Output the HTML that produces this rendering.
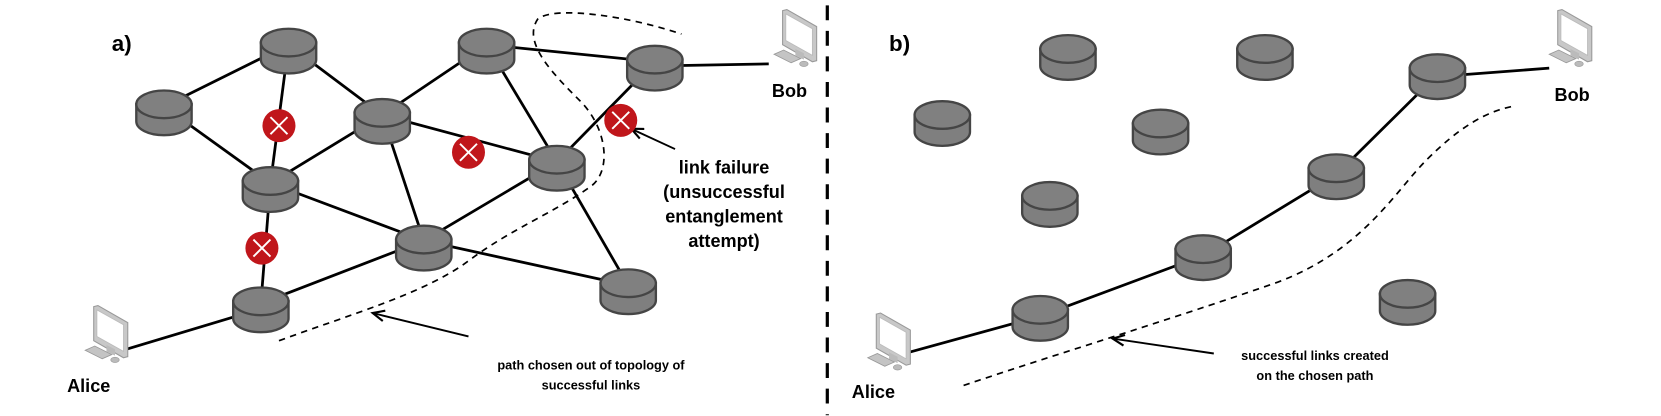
<!DOCTYPE html>
<html><head><meta charset="utf-8"><style>
html,body{margin:0;padding:0;background:#fff;}
svg{display:block;}
text{font-family:"Liberation Sans",Arial,sans-serif;font-weight:bold;fill:#000;}
</style></head><body>
<svg width="1661" height="416" viewBox="0 0 1560 390.7" preserveAspectRatio="none" xmlns="http://www.w3.org/2000/svg">
<defs>
<g id="node">
<path d="M-26,0 v16 a26,13 0 0 0 52,0 v-16 z" fill="#7f7f7f" stroke="#454545" stroke-width="2.2"/>
<ellipse cx="0" cy="0" rx="26" ry="13" fill="#808080" stroke="#454545" stroke-width="2.2"/>
</g>
<g id="fail">
<circle r="15.5" fill="#c0161b"/>
<path d="M-8,-8 L8,8 M8,-8 L-8,8" stroke="#fff" stroke-width="1.8"/>
</g>
<g id="pc">
<polygon points="8,0 12,-1 40,15 40,47 36,48 8,32" fill="#c8c8c8" stroke="#999" stroke-width="1"/>
<polygon points="11,3 36,17 36,42 11,28" fill="#fff" stroke="#bbb" stroke-width="0.8"/>
<polygon points="20,36 28,40 28,46 20,42" fill="#bbb"/>
<polygon points="0,41 9,37 25,45 16,49" fill="#c4c4c4" stroke="#999" stroke-width="0.8"/>
<ellipse cx="28" cy="50" rx="4" ry="2.5" fill="#bbb" stroke="#999" stroke-width="0.6"/>
</g>
<marker id="arr" markerWidth="14" markerHeight="12" refX="12" refY="6" orient="auto" markerUnits="userSpaceOnUse">
<path d="M1,1 L12,6 L1,11" fill="none" stroke="#000" stroke-width="2"/>
</marker>
</defs>

<line x1="777" y1="5" x2="777" y2="390" stroke="#000" stroke-width="3" stroke-dasharray="14,10"/>

<g stroke="#000" stroke-width="2.6" fill="none">
<line x1="154" y1="100" x2="271" y2="42"/>
<line x1="154" y1="100" x2="254" y2="172"/>
<line x1="271" y1="42" x2="254" y2="172"/>
<line x1="271" y1="42" x2="359" y2="108"/>
<line x1="359" y1="108" x2="254" y2="172"/>
<line x1="359" y1="108" x2="457" y2="42"/>
<line x1="457" y1="42" x2="615" y2="58"/>
<line x1="615" y1="62" x2="722" y2="60"/>
<line x1="457" y1="42" x2="523" y2="152"/>
<line x1="359" y1="108" x2="523" y2="152"/>
<line x1="615" y1="58" x2="523" y2="152"/>
<line x1="359" y1="108" x2="398" y2="226"/>
<line x1="254" y1="172" x2="398" y2="226"/>
<line x1="254" y1="172" x2="245" y2="285"/>
<line x1="245" y1="290" x2="112" y2="330"/>
<line x1="245" y1="285" x2="398" y2="226"/>
<line x1="398" y1="226" x2="523" y2="152"/>
<line x1="398" y1="226" x2="590" y2="268"/>
<line x1="523" y1="152" x2="590" y2="268"/>
</g>
<path d="M262,320 C330,295 400,275 440,245 C480,215 520,200 555,175 C575,160 570,120 545,95 C520,70 490,40 505,18 C520,5 590,15 640,32" fill="none" stroke="#000" stroke-width="1.6" stroke-dasharray="6,5"/>
<line x1="440" y1="316" x2="350" y2="294" stroke="#000" stroke-width="1.8" marker-end="url(#arr)"/>
<line x1="634" y1="140" x2="593" y2="121" stroke="#000" stroke-width="1.8" marker-end="url(#arr)"/>

<use href="#node" x="154" y="98"/>
<use href="#node" x="271" y="40"/>
<use href="#node" x="359" y="106"/>
<use href="#node" x="457" y="40"/>
<use href="#node" x="615" y="56"/>
<use href="#node" x="254" y="170"/>
<use href="#node" x="523" y="150"/>
<use href="#node" x="398" y="225"/>
<use href="#node" x="590" y="266"/>
<use href="#node" x="245" y="283"/>
<use href="#fail" x="262" y="118"/>
<use href="#fail" x="440" y="143"/>
<use href="#fail" x="583" y="113"/>
<use href="#fail" x="246" y="233"/>
<use href="#pc" x="80" y="288"/>
<use href="#pc" x="727" y="10"/>

<text x="105" y="48" font-size="21">a)</text>
<text x="63" y="368" font-size="17">Alice</text>
<text x="725" y="91" font-size="17">Bob</text>
<g font-size="17" text-anchor="middle">
<text x="680" y="163">link failure</text>
<text x="680" y="186">(unsuccessful</text>
<text x="680" y="209">entanglement</text>
<text x="680" y="232">attempt)</text>
</g>
<g font-size="12" text-anchor="middle">
<text x="555" y="347">path chosen out of topology of</text>
<text x="555" y="366">successful links</text>
</g>

<g stroke="#000" stroke-width="2.6" fill="none">
<line x1="846" y1="333" x2="977" y2="297"/>
<line x1="977" y1="297" x2="1130" y2="240"/>
<line x1="1130" y1="240" x2="1255" y2="164"/>
<line x1="1255" y1="164" x2="1350" y2="70"/>
<line x1="1350" y1="72" x2="1455" y2="64"/>
</g>
<path d="M905,362 C1000,330 1100,300 1200,265 C1280,235 1310,180 1340,150 C1370,120 1395,105 1420,100" fill="none" stroke="#000" stroke-width="1.6" stroke-dasharray="6,5"/>
<line x1="1140" y1="332" x2="1045" y2="318" stroke="#000" stroke-width="1.8" marker-end="url(#arr)"/>

<use href="#node" x="1003" y="46"/>
<use href="#node" x="1188" y="46"/>
<use href="#node" x="885" y="108"/>
<use href="#node" x="1090" y="116"/>
<use href="#node" x="986" y="184"/>
<use href="#node" x="1350" y="64"/>
<use href="#node" x="1255" y="158"/>
<use href="#node" x="1130" y="234"/>
<use href="#node" x="977" y="291"/>
<use href="#node" x="1322" y="276"/>
<use href="#pc" x="815" y="295"/>
<use href="#pc" x="1455" y="10"/>

<text x="835" y="48" font-size="21">b)</text>
<text x="800" y="374" font-size="17">Alice</text>
<text x="1460" y="95" font-size="17">Bob</text>
<g font-size="12" text-anchor="middle">
<text x="1235" y="338">successful links created</text>
<text x="1235" y="357">on the chosen path</text>
</g>
</svg>
</body></html>
